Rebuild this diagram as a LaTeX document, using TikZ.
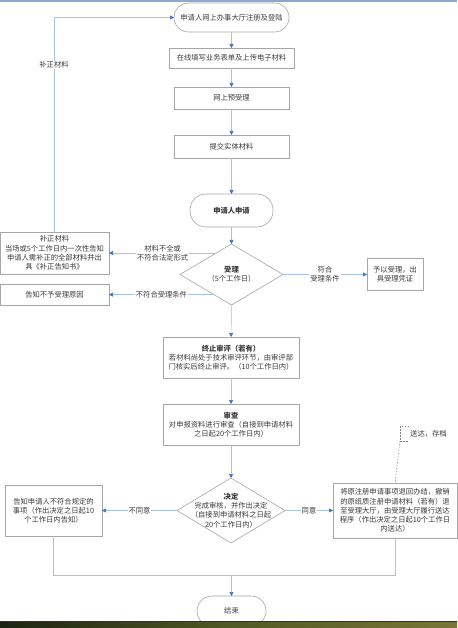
\documentclass[tikz,border=0pt]{standalone}
\usepackage{fontspec}
\setmainfont{Noto Sans CJK SC}
\usetikzlibrary{arrows.meta,shapes.geometric,calc}
\definecolor{lineblue}{HTML}{A9C1E3}
\definecolor{arrblue}{HTML}{4472C4}
\definecolor{boxgray}{HTML}{A6A6A6}
\definecolor{txt}{HTML}{3A3A3A}
\definecolor{topline}{HTML}{8FA8CB}
\definecolor{bardark}{HTML}{1C2412}
\definecolor{barmid}{HTML}{4E5A22}
\definecolor{barlight}{HTML}{7A7638}
\tikzset{
  every node/.style={font=\fontsize{7.3}{9.2}\selectfont, text=txt},
  box/.style={draw=boxgray, line width=0.6pt, fill=white, align=center, inner sep=1pt, outer sep=0pt},
  term/.style={box, rounded corners=#1},
  dia/.style={draw=boxgray, line width=0.6pt, fill=white, diamond, inner sep=0pt, outer sep=0pt},
  conn/.style={draw=lineblue, line width=0.6pt},
  flow/.style={conn, -{Triangle[length=4pt,width=4pt,color=arrblue]}},
  lab/.style={fill=white, inner sep=1pt, align=center},
  callout/.style={draw=gray, line width=0.5pt, dashed, dash pattern=on 1.5pt off 1.5pt}
}
\begin{document}
\begin{tikzpicture}[x=1pt,y=-1pt]
\useasboundingbox (0,0) rectangle (457,628);
\fill[white] (0,0) rectangle (457,628);
\draw[topline, line width=1.5pt] (0,1.2) -- (457,1.2);

% main column
\node[term=14.5pt, minimum width=115pt, minimum height=29pt] (n1) at (231.5,17.5) {申请人网上办事大厅注册及登陆};
\node[box, minimum width=125pt, minimum height=20pt] (n2) at (231.5,58) {在线填写业务表单及上传电子材料};
\node[box, minimum width=115pt, minimum height=22pt] (n3) at (231.5,98) {网上预受理};
\node[box, minimum width=115pt, minimum height=23pt] (n4) at (231.5,146.5) {提交实体材料};
\node[term=16pt, minimum width=83pt, minimum height=33pt] (n5) at (231.5,210.5) {\bfseries 申请人申请};
\node[dia, minimum width=103pt, minimum height=61pt] (d1) at (231.5,274.5) {};
\node[align=center, inner sep=0pt] (d1t) at (231.5,274.5) {\bfseries 受理\\（5个工作日）};

\node[box, minimum width=109pt, minimum height=42pt] (l1) at (54.5,253) {补正材料\\当场或5个工作日内一次性告知\\申请人需补正的全部材料并出\\具《补正告知书》};
\node[box, minimum width=109pt, minimum height=21pt] (l2) at (54.5,294.5) {告知不予受理原因};
\node[box, minimum width=56pt, minimum height=32pt] (r1) at (395,274) {予以受理，出\\具受理凭证};

\node[box, minimum width=136pt, minimum height=41pt] (n6) at (231,357.5) {\bfseries 终止审评（若有）\\若材料尚处于技术审评环节，由审评部\\门核实后终止审评。（10个工作日内）};
\node[box, minimum width=136pt, minimum height=41pt] (n7) at (231,424.5) {\bfseries 审查\\对申报资料进行审查（自接到申请材料\\之日起20个工作日内）};

\node[dia, minimum width=108pt, minimum height=65pt] (d2) at (231,510.5) {};
\node[align=center, inner sep=0pt] (d2t) at (231,510.5) {\bfseries 决定\\完成审核，并作出决定\\（自接到申请材料之日起\\20个工作日内）};

\node[box, minimum width=97pt, minimum height=51pt] (l3) at (53.5,510.5) {告知申请人不符合规定的\\事项（作出决定之日起10\\个工作日内告知）};
\node[box, minimum width=124pt, minimum height=55pt] (r2) at (395,510.5) {将原注册申请事项退回办结，撤销\\的原纸质注册申请材料（若有）退\\至受理大厅，由受理大厅履行送达\\程序（作出决定之日起10个工作日\\内送达）};

\node[term=15pt, minimum width=69pt, minimum height=30pt] (end) at (231.5,611) {结束};

% connectors
\draw[flow] (n1) -- (n2);
\draw[flow] (n2) -- (n3);
\draw[flow] (n3) -- (n4);
\draw[flow] (n4) -- (n5);
\draw[flow] (n5) -- (d1);
\draw[flow] (d1) -- (n6);
\draw[flow] (n6) -- (n7);
\draw[flow] (n7) -- (d2);

\coordinate (p1) at ($(d1.north)!0.295!(d1.west)$);
\draw[flow] (p1) -- (p1 -| l1.east) node[lab, midway] (lab1) {材料不全或\\不符合法定形式};
\coordinate (p2) at ($(d1.west)!0.66!(d1.south)$);
\draw[flow] (p2) -- (p2 -| l2.east) node[lab, midway] (lab2) {不符合受理条件};
\draw[flow] (d1.east) -- (d1.east -| r1.west) node[lab, midway] (lab3) {符合\\受理条件};

\draw[flow] (l1.north) -- (l1.north |- n1.west) -- (n1.west);
\node[lab] (lab0) at (54,65) {补正材料};

\draw[flow] (d2.west) -- (d2.west -| l3.east) node[lab, midway] (lab4) {不同意};
\draw[flow] (d2.east) -- (d2.east -| r2.west) node[lab, midway] (lab5) {同意};

\coordinate (m) at (231.5,575);
\draw[conn] (l3.south) |- (m);
\draw[conn] (r2.south) |- (m);
\draw[flow] (m) -- (end);

% callout
\coordinate (cb) at (400,441);
\draw[callout] (409,426) -- (400,426) -- (cb) -- (409,441);
\draw[callout] (cb) -- (r2.north);
\node[anchor=west, inner sep=0pt] (cl) at (410,433.5) {送达，存档};

% bottom bar
\shade[left color=bardark, right color=barlight, middle color=barmid] (0,621) rectangle (457,628);
\draw[black!80, line width=0.6pt] (0,621) -- (457,621);
\end{tikzpicture}
\end{document}
